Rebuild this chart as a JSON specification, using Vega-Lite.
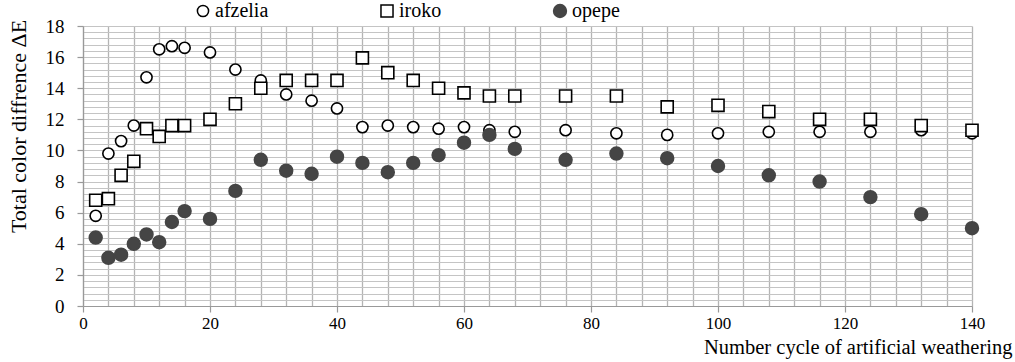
{
  "$schema": "https://vega.github.io/schema/vega-lite/v6.json",
  "width": 889,
  "height": 280,
  "autosize": {"type": "none"},
  "padding": {"left": 83, "top": 26, "right": 43, "bottom": 56},
  "background": "white",
  "config": {
    "view": {"stroke": null},
    "font": "Liberation Serif"
  },
  "data": {"values": [
    {"cycle": 2, "wood": "afzelia", "dE": 5.8},
    {"cycle": 4, "wood": "afzelia", "dE": 9.8},
    {"cycle": 6, "wood": "afzelia", "dE": 10.6},
    {"cycle": 8, "wood": "afzelia", "dE": 11.6},
    {"cycle": 10, "wood": "afzelia", "dE": 14.7},
    {"cycle": 12, "wood": "afzelia", "dE": 16.5},
    {"cycle": 14, "wood": "afzelia", "dE": 16.7},
    {"cycle": 16, "wood": "afzelia", "dE": 16.6},
    {"cycle": 20, "wood": "afzelia", "dE": 16.3},
    {"cycle": 24, "wood": "afzelia", "dE": 15.2},
    {"cycle": 28, "wood": "afzelia", "dE": 14.5},
    {"cycle": 32, "wood": "afzelia", "dE": 13.6},
    {"cycle": 36, "wood": "afzelia", "dE": 13.2},
    {"cycle": 40, "wood": "afzelia", "dE": 12.7},
    {"cycle": 44, "wood": "afzelia", "dE": 11.5},
    {"cycle": 48, "wood": "afzelia", "dE": 11.6},
    {"cycle": 52, "wood": "afzelia", "dE": 11.5},
    {"cycle": 56, "wood": "afzelia", "dE": 11.4},
    {"cycle": 60, "wood": "afzelia", "dE": 11.5},
    {"cycle": 64, "wood": "afzelia", "dE": 11.3},
    {"cycle": 68, "wood": "afzelia", "dE": 11.2},
    {"cycle": 76, "wood": "afzelia", "dE": 11.3},
    {"cycle": 84, "wood": "afzelia", "dE": 11.1},
    {"cycle": 92, "wood": "afzelia", "dE": 11.0},
    {"cycle": 100, "wood": "afzelia", "dE": 11.1},
    {"cycle": 108, "wood": "afzelia", "dE": 11.2},
    {"cycle": 116, "wood": "afzelia", "dE": 11.2},
    {"cycle": 124, "wood": "afzelia", "dE": 11.2},
    {"cycle": 132, "wood": "afzelia", "dE": 11.3},
    {"cycle": 140, "wood": "afzelia", "dE": 11.1},
    {"cycle": 2, "wood": "iroko", "dE": 6.8},
    {"cycle": 4, "wood": "iroko", "dE": 6.9},
    {"cycle": 6, "wood": "iroko", "dE": 8.4},
    {"cycle": 8, "wood": "iroko", "dE": 9.3},
    {"cycle": 10, "wood": "iroko", "dE": 11.4},
    {"cycle": 12, "wood": "iroko", "dE": 10.9},
    {"cycle": 14, "wood": "iroko", "dE": 11.6},
    {"cycle": 16, "wood": "iroko", "dE": 11.6},
    {"cycle": 20, "wood": "iroko", "dE": 12.0},
    {"cycle": 24, "wood": "iroko", "dE": 13.0},
    {"cycle": 28, "wood": "iroko", "dE": 14.0},
    {"cycle": 32, "wood": "iroko", "dE": 14.5},
    {"cycle": 36, "wood": "iroko", "dE": 14.5},
    {"cycle": 40, "wood": "iroko", "dE": 14.5},
    {"cycle": 44, "wood": "iroko", "dE": 15.95},
    {"cycle": 48, "wood": "iroko", "dE": 15.0},
    {"cycle": 52, "wood": "iroko", "dE": 14.5},
    {"cycle": 56, "wood": "iroko", "dE": 14.0},
    {"cycle": 60, "wood": "iroko", "dE": 13.7},
    {"cycle": 64, "wood": "iroko", "dE": 13.5},
    {"cycle": 68, "wood": "iroko", "dE": 13.5},
    {"cycle": 76, "wood": "iroko", "dE": 13.5},
    {"cycle": 84, "wood": "iroko", "dE": 13.5},
    {"cycle": 92, "wood": "iroko", "dE": 12.8},
    {"cycle": 100, "wood": "iroko", "dE": 12.9},
    {"cycle": 108, "wood": "iroko", "dE": 12.5},
    {"cycle": 116, "wood": "iroko", "dE": 12.0},
    {"cycle": 124, "wood": "iroko", "dE": 12.0},
    {"cycle": 132, "wood": "iroko", "dE": 11.6},
    {"cycle": 140, "wood": "iroko", "dE": 11.3},
    {"cycle": 2, "wood": "opepe", "dE": 4.4},
    {"cycle": 4, "wood": "opepe", "dE": 3.1},
    {"cycle": 6, "wood": "opepe", "dE": 3.3},
    {"cycle": 8, "wood": "opepe", "dE": 4.0},
    {"cycle": 10, "wood": "opepe", "dE": 4.6},
    {"cycle": 12, "wood": "opepe", "dE": 4.1},
    {"cycle": 14, "wood": "opepe", "dE": 5.4},
    {"cycle": 16, "wood": "opepe", "dE": 6.1},
    {"cycle": 20, "wood": "opepe", "dE": 5.6},
    {"cycle": 24, "wood": "opepe", "dE": 7.4},
    {"cycle": 28, "wood": "opepe", "dE": 9.4},
    {"cycle": 32, "wood": "opepe", "dE": 8.7},
    {"cycle": 36, "wood": "opepe", "dE": 8.5},
    {"cycle": 40, "wood": "opepe", "dE": 9.6},
    {"cycle": 44, "wood": "opepe", "dE": 9.2},
    {"cycle": 48, "wood": "opepe", "dE": 8.6},
    {"cycle": 52, "wood": "opepe", "dE": 9.2},
    {"cycle": 56, "wood": "opepe", "dE": 9.7},
    {"cycle": 60, "wood": "opepe", "dE": 10.5},
    {"cycle": 64, "wood": "opepe", "dE": 11.0},
    {"cycle": 68, "wood": "opepe", "dE": 10.1},
    {"cycle": 76, "wood": "opepe", "dE": 9.4},
    {"cycle": 84, "wood": "opepe", "dE": 9.8},
    {"cycle": 92, "wood": "opepe", "dE": 9.5},
    {"cycle": 100, "wood": "opepe", "dE": 9.0},
    {"cycle": 108, "wood": "opepe", "dE": 8.4},
    {"cycle": 116, "wood": "opepe", "dE": 8.0},
    {"cycle": 124, "wood": "opepe", "dE": 7.0},
    {"cycle": 132, "wood": "opepe", "dE": 5.9},
    {"cycle": 140, "wood": "opepe", "dE": 5.0}
  ]},
  "mark": {"type": "point", "filled": true, "strokeWidth": 1.6, "opacity": 1},
  "encoding": {
    "x": {
      "field": "cycle", "type": "quantitative",
      "scale": {"domain": [0, 140], "nice": false, "zero": false},
      "axis": {
        "values": [0,4,8,12,16,20,24,28,32,36,40,44,48,52,56,60,64,68,72,76,80,84,88,92,96,100,104,108,112,116,120,124,128,132,136,140],
        "labelExpr": "datum.value % 20 === 0 ? format(datum.value, 'd') : ''",
        "labelOverlap": false,
        "labelFlush": false,
        "grid": true, "gridColor": "#b4b4b4", "gridWidth": 1.3,
        "tickSize": 6, "tickColor": "#999999", "tickWidth": 1.2,
        "tickOpacity": {"condition": {"test": "datum.value % 20 === 0", "value": 1}, "value": 0},
        "domainColor": "#999999", "domainWidth": 1.2,
        "labelFont": "Liberation Serif", "labelFontSize": 17, "labelColor": "#000000", "labelPadding": 3,
        "title": "Number cycle of artificial weathering",
        "titleFont": "Liberation Serif", "titleFontSize": 20.5, "titleFontWeight": "normal", "titleColor": "#000000",
        "titleAlign": "right", "titleAnchor": "end", "titleBaseline": "alphabetic",
        "titleX": 929, "titleY": 47
      }
    },
    "y": {
      "field": "dE", "type": "quantitative",
      "scale": {"domain": [0, 18], "nice": false},
      "axis": {
        "values": [0,0.4,0.8,1.2,1.6,2,2.4,2.8,3.2,3.6,4,4.4,4.8,5.2,5.6,6,6.4,6.8,7.2,7.6,8,8.4,8.8,9.2,9.6,10,10.4,10.8,11.2,11.6,12,12.4,12.8,13.2,13.6,14,14.4,14.8,15.2,15.6,16,16.4,16.8,17.2,17.6,18],
        "labelExpr": "datum.value % 2 === 0 ? format(datum.value, 'd') : ''",
        "labelOverlap": false,
        "labelFlush": false,
        "grid": true, "gridColor": "#c4c4c4", "gridWidth": 1,
        "tickSize": 6, "tickColor": "#999999", "tickWidth": 1.2,
        "tickOpacity": {"condition": {"test": "datum.value % 2 === 0", "value": 1}, "value": 0},
        "domainColor": "#999999", "domainWidth": 1.2,
        "labelFont": "Liberation Serif", "labelFontSize": 19, "labelColor": "#000000", "labelPadding": 13,
        "title": "Total color diffrence ΔE",
        "titleFont": "Liberation Serif", "titleFontSize": 22, "titleFontWeight": "normal", "titleColor": "#000000",
        "titleAngle": -90, "titleAlign": "center", "titleBaseline": "middle",
        "titleX": -65, "titleY": 100
      }
    },
    "shape": {
      "field": "wood", "type": "nominal",
      "scale": {"domain": ["afzelia", "iroko", "opepe"], "range": ["circle", "square", "circle"]},
      "legend": {
        "title": null, "orient": "none", "direction": "horizontal",
        "legendX": 110, "legendY": -25,
        "columnPadding": 108,
        "labelFont": "Liberation Serif", "labelFontSize": 20, "labelColor": "#000000",
        "labelOffset": 2, "symbolStrokeWidth": 1.5
      }
    },
    "fill": {
      "field": "wood", "type": "nominal",
      "scale": {"domain": ["afzelia", "iroko", "opepe"], "range": ["#ffffff", "#ffffff", "#454545"]}
    },
    "stroke": {
      "field": "wood", "type": "nominal",
      "scale": {"domain": ["afzelia", "iroko", "opepe"], "range": ["#000000", "#000000", "#454545"]}
    },
    "size": {
      "field": "wood", "type": "nominal",
      "scale": {"domain": ["afzelia", "iroko", "opepe"], "range": [125, 165, 150]}
    }
  }
}
